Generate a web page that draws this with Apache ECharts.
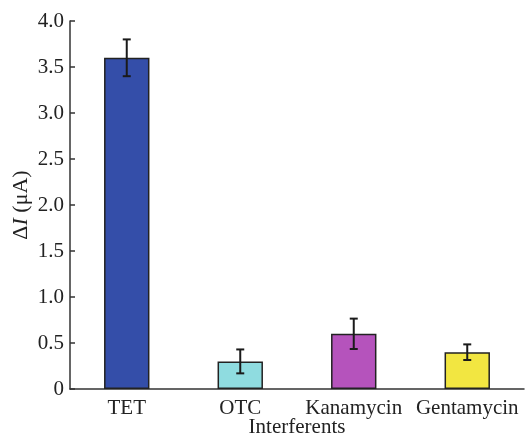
<!DOCTYPE html>
<html><head><meta charset="utf-8">
<script src="https://cdn.jsdelivr.net/npm/echarts@6/dist/echarts.min.js"></script>
<style>html,body{margin:0;padding:0;background:#fff}#c{width:525px;height:436px}</style>
</head><body><div id="c"></div>
<script>
const categories = ['TET', 'OTC', 'Kanamycin', 'Gentamycin'];
const values = [3.6, 0.3, 0.6, 0.4];
const errors = [0.2, 0.13, 0.165, 0.085];
const colors = ['#344ea9', '#8fdce0', '#b553bc', '#f2e641'];
const yTicks = [0, 0.5, 1.0, 1.5, 2.0, 2.5, 3.0, 3.5, 4.0];

const FONT = 'Liberation Serif';
const chart = echarts.init(document.getElementById('c'));
chart.setOption({
  animation: false,
  grid: {left: 70, right: 1, top: 21, bottom: 47, containLabel: false, outerBoundsMode: 'none'},
  xAxis: {
    type: 'category', data: categories,
    name: 'Interferents', nameLocation: 'middle', nameGap: 28, nameMoveOverlap: false,
    nameTextStyle: {fontFamily: FONT, fontSize: 21, color: '#222'},
    axisLine: {lineStyle: {color: '#333', width: 1.5}},
    axisTick: {inside: true, length: 5, interval: 0, lineStyle: {color: '#333', width: 1.5}},
    axisLabel: {fontFamily: FONT, fontSize: 21, color: '#222', margin: 9, interval: 0, hideOverlap: false}
  },
  yAxis: {
    type: 'value', min: 0, max: 4, interval: 0.5,
    name: '{a|Δ}{i|I}{a| (μA)}', nameLocation: 'middle', nameGap: 38, nameMoveOverlap: false,
    nameTextStyle: {rich: {
      a: {fontFamily: FONT, fontSize: 22, color: '#222'},
      i: {fontFamily: FONT, fontSize: 22, fontStyle: 'italic', color: '#222'}
    }},
    axisLine: {show: true, lineStyle: {color: '#333', width: 1.5}},
    axisTick: {show: true, inside: true, length: 5, lineStyle: {color: '#333', width: 1.5}},
    splitLine: {show: false},
    axisLabel: {fontFamily: FONT, fontSize: 21, color: '#222', margin: 6,
      formatter: v => v === 0 ? '0' : v.toFixed(1)}
  },
  series: [
    {
      type: 'bar', barWidth: '40%',
      data: values.map((v, i) => ({value: v, itemStyle: {color: colors[i]}})),
      itemStyle: {borderColor: '#222', borderWidth: 1.5}
    },
    {
      type: 'custom',
      data: values.map((v, i) => [i, v - errors[i], v + errors[i]]),
      renderItem: (params, api) => {
        const x = api.value(0);
        const lo = api.coord([x, api.value(1)]);
        const hi = api.coord([x, api.value(2)]);
        const hw = 4;
        const st = {stroke: '#1a1a1a', lineWidth: 2};
        return {type: 'group', children: [
          {type: 'line', shape: {x1: lo[0], y1: lo[1], x2: hi[0], y2: hi[1]}, style: st},
          {type: 'line', shape: {x1: lo[0]-hw, y1: lo[1], x2: lo[0]+hw, y2: lo[1]}, style: st},
          {type: 'line', shape: {x1: hi[0]-hw, y1: hi[1], x2: hi[0]+hw, y2: hi[1]}, style: st}
        ]};
      },
      z: 10
    }
  ]
});
</script></body></html>
